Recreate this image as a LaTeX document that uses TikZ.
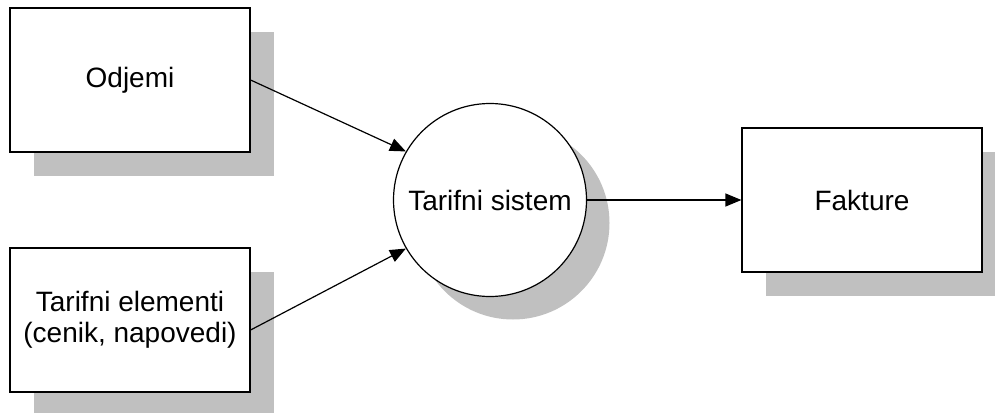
\documentclass[tikz,border=0pt]{standalone}
\usepackage{fontspec}
\setmainfont{Liberation Sans}
\usetikzlibrary{arrows.meta,shadows}
\definecolor{shadowgray}{RGB}{192,192,192}
\begin{document}
\begin{tikzpicture}[x=1pt,y=-1pt,
  label font/.style={font=\fontsize{28}{31}\selectfont},
  block/.style={draw, line width=1.2pt, fill=white, minimum width=240pt,
    minimum height=144pt, inner sep=0pt, align=center, label font,
    general shadow={fill=shadowgray, shadow xshift=24pt, shadow yshift=-24pt}},
  proc/.style={circle, draw, line width=1.2pt, fill=white, minimum size=193pt,
    inner sep=0pt, align=center, label font,
    general shadow={fill=shadowgray, shadow xshift=23pt, shadow yshift=-23pt}},
  flow/.style={line width=1.2pt, -{Triangle[length=16pt,width=13pt]}}]
\useasboundingbox (0,0) rectangle (995,412);
% inputs, process and output
\node[block] (odj) at (130,80) {Odjemi};
\node[block] (tar) at (130,320) {Tarifni elementi\\(cenik, napovedi)};
\node[proc] (sys) at (490,200) {Tarifni sistem};
\node[block] (fak) at (862,200) {Fakture};
% data flows
\draw[flow] (odj.east) -- (sys.150);
\draw[flow] ([yshift=-10pt]tar.east) -- (sys.210);
\draw[flow] (sys.east) -- (fak.west);
\end{tikzpicture}
\end{document}
